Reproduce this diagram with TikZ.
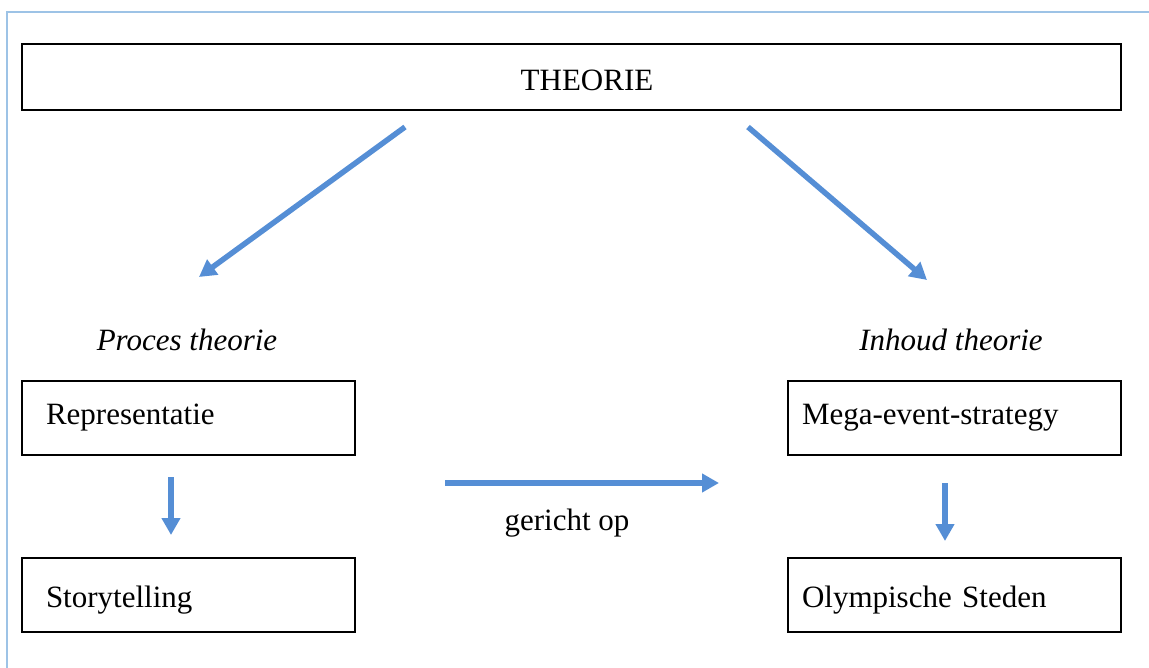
\documentclass[tikz,border=0pt]{standalone}
\usepackage{fontspec}
\setmainfont{Liberation Serif}
\usetikzlibrary{arrows.meta}
\definecolor{arrowblue}{RGB}{85,142,213}
\definecolor{frameblue}{RGB}{157,195,230}
\tikzset{
  box/.style={draw, line width=2pt, minimum height=74pt, anchor=north west, align=left, font=\fontsize{31}{36}\selectfont},
  bluearrow/.style={arrowblue, line width=5.5pt, -{Triangle[length=17pt, width=18pt]}}
}
\begin{document}
\begin{tikzpicture}[x=1pt, y=-1pt]
        \useasboundingbox (0, 0) rectangle (1149, 668);
        \draw[frameblue, line width = 2pt] (6, 12) -- (1149, 12);
        \draw[frameblue, line width = 2pt] (7, 12) -- (7, 668);
        \node[box, minimum width = 1099pt, minimum height = 66pt] (theorie) at (21, 43) {};
        \node[font=\fontsize{31}{36}\selectfont] (theotext) at (587, 80) {THEORIE};
        % linker kant
        \node[font=\fontsize{31}{36}\selectfont\itshape] (proces) at (187, 340) {Proces theorie};
        \node[box, text width = 285pt, inner xsep = 24pt] (repr) at (21, 380) {Representatie};
        \node[box, text width = 285pt, inner xsep = 24pt] (story) at (21, 557) {\rule{0pt}{31pt}Storytelling};
        % rechter kant
        \node[font=\fontsize{31}{36}\selectfont\itshape] (inhoud) at (951, 340) {Inhoud theorie};
        \node[box, text width = 305pt, inner xsep = 14pt] (mega) at (787, 380) {Mega-event-strategy};
        \node[box, text width = 305pt, inner xsep = 14pt] (olymp) at (787, 557) {\rule{0pt}{31pt}Olympische Steden};
        \node[font=\fontsize{31}{36}\selectfont] (gericht) at (567, 523) {gericht op};
        % pijlen
        \coordinate (tl) at (405, 127);
        \coordinate (pl) at (199, 277);
        \coordinate (tr) at (748, 127);
        \coordinate (pr) at (927, 280);
        \coordinate (rl) at (171, 477);
        \coordinate (sl) at (171, 535);
        \coordinate (mr) at (945, 483);
        \coordinate (or) at (945, 541);
        \coordinate (ga) at (445, 483);
        \coordinate (gb) at (719, 483);
        \draw[bluearrow] (tl) -- (pl);
        \draw[bluearrow] (tr) -- (pr);
        \draw[bluearrow] (rl) -- (sl);
        \draw[bluearrow] (mr) -- (or);
        \draw[bluearrow] (ga) -- (gb);
\end{tikzpicture}
\end{document}
